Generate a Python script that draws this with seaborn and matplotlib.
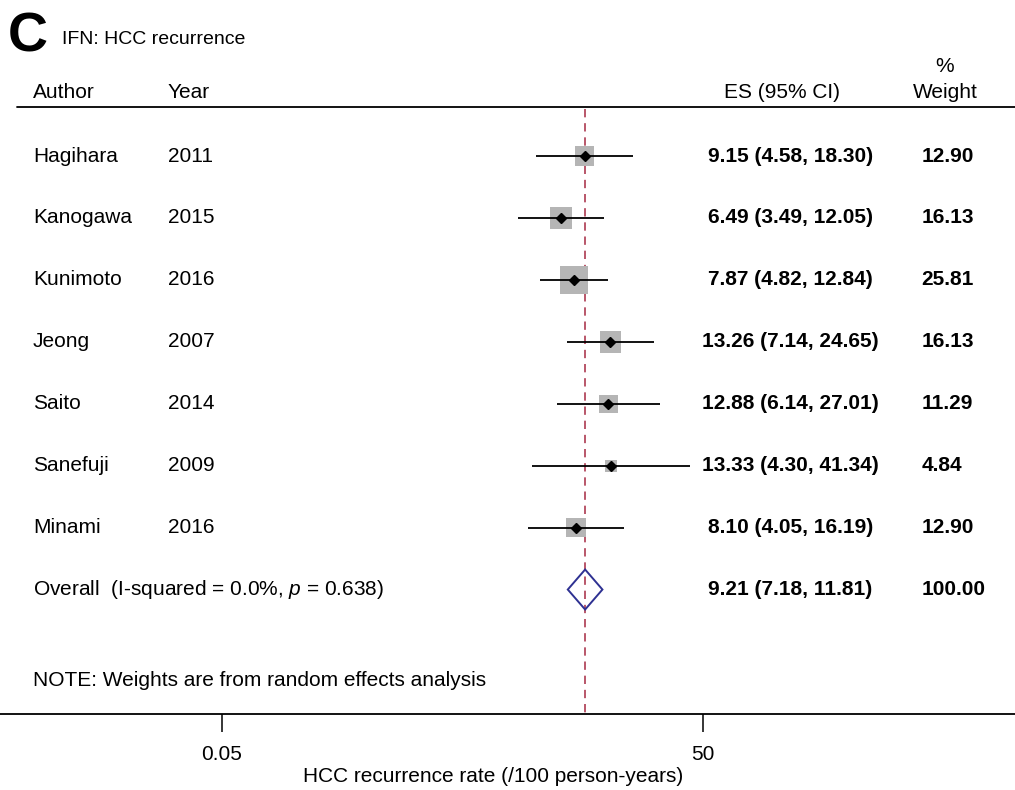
import numpy as np
import pandas as pd
import matplotlib
matplotlib.use("Agg")
import matplotlib.pyplot as plt
import matplotlib.transforms as mtransforms
from matplotlib.patches import Polygon
import seaborn as sns

# Study-level estimates (HCC recurrence rate per 100 person-years)
authors = ["Hagihara", "Kanogawa", "Kunimoto", "Jeong", "Saito", "Sanefuji", "Minami"]
years = ["2011", "2015", "2016", "2007", "2014", "2009", "2016"]
es = [9.15, 6.49, 7.87, 13.26, 12.88, 13.33, 8.10]
ci_low = [4.58, 3.49, 4.82, 7.14, 6.14, 4.30, 4.05]
ci_high = [18.30, 12.05, 12.84, 24.65, 27.01, 41.34, 16.19]
weights = [12.90, 16.13, 25.81, 16.13, 11.29, 4.84, 12.90]

# Pooled random-effects estimate
overall_es = 9.21
overall_low = 7.18
overall_high = 11.81
overall_weight = 100.00
i_squared = 0.0
p_het = 0.638

tick_values = [0.05, 50]
tick_labels = ["0.05", "50"]

sns.set_style("white")
plt.rcParams["font.family"] = ["Liberation Sans", "DejaVu Sans"]
plt.rcParams["mathtext.fontset"] = "custom"
plt.rcParams["mathtext.it"] = "Liberation Sans:italic"
plt.rcParams["mathtext.rm"] = "Liberation Sans"
plt.rcParams["text.color"] = "black"
plt.rcParams["axes.labelcolor"] = "black"
plt.rcParams["xtick.color"] = "black"

df = pd.DataFrame({"author": authors, "year": years, "es": es,
                   "lo": ci_low, "hi": ci_high, "w": weights})
df["row"] = np.arange(len(df))
overall_row = len(df)
note_row = overall_row + 1.47

fig = plt.figure(figsize=(10.15, 7.9), dpi=100)
ax = fig.add_axes([0, 76 / 790, 1, 714 / 790])
ax.set_xscale("log")
ax.set_xlim(10 ** -2.686, 10 ** 3.646)
ax.set_ylim(9.01, -2.52)

# confidence intervals
ax.hlines(df["row"], df["lo"], df["hi"], color="black", lw=1.3, zorder=2)

# weight boxes, area proportional to study weight
k = 15.5
sns.scatterplot(data=df, x="es", y="row", size="w",
                sizes=(k * min(weights), k * max(weights)),
                size_norm=(min(weights), max(weights)),
                marker="s", color="#b5b5b5", edgecolor="none", linewidth=0,
                legend=False, ax=ax, zorder=1)
# point estimates
ax.plot(df["es"], df["row"], linestyle="none", marker="D", ms=5.5,
        color="black", zorder=3)

# pooled estimate line and diamond
ax.vlines(overall_es, -0.76, 9.01, colors="#ad3a50", linestyles=(0, (5, 3.5)),
          lw=1.2, zorder=0)
h = 0.323
diamond = Polygon([(overall_low, overall_row), (overall_es, overall_row - h),
                   (overall_high, overall_row), (overall_es, overall_row + h)],
                  closed=True, fill=False, edgecolor="#2e3192", lw=1.4, zorder=4)
ax.add_patch(diamond)

# column texts
trans = mtransforms.blended_transform_factory(ax.transAxes, ax.transData)
fs = 15
x_author, x_year, x_es, x_w, x_whead = 0.0325, 0.1655, 0.7785, 0.908, 0.931
for _, r in df.iterrows():
    ax.text(x_author, r["row"], r["author"], transform=trans, fontsize=fs,
            va="center", ha="left")
    ax.text(x_year, r["row"], r["year"], transform=trans, fontsize=fs,
            va="center", ha="left")
    ax.text(x_es, r["row"], f"{r['es']:.2f} ({r['lo']:.2f}, {r['hi']:.2f})",
            transform=trans, fontsize=fs, va="center", ha="center",
            fontweight="bold")
    ax.text(x_w, r["row"], f"{r['w']:.2f}", transform=trans, fontsize=fs,
            va="center", ha="left", fontweight="bold")

ax.text(x_author, overall_row,
        f"Overall  (I-squared = {i_squared:.1f}%, $p$ = {p_het:.3f})",
        transform=trans, fontsize=fs, va="center", ha="left")
ax.text(x_es, overall_row,
        f"{overall_es:.2f} ({overall_low:.2f}, {overall_high:.2f})",
        transform=trans, fontsize=fs, va="center", ha="center", fontweight="bold")
ax.text(x_w, overall_row, f"{overall_weight:.2f}", transform=trans,
        fontsize=fs, va="center", ha="left", fontweight="bold")
ax.text(x_author, note_row, "NOTE: Weights are from random effects analysis",
        transform=trans, fontsize=fs, va="center", ha="left")

# header
ax.text(x_author, -1.02, "Author", transform=trans, fontsize=fs, va="center")
ax.text(x_year, -1.02, "Year", transform=trans, fontsize=fs, va="center")
ax.text(0.770, -1.02, "ES (95% CI)", transform=trans, fontsize=fs,
        va="center", ha="center")
ax.text(x_whead, -1.44, "%", transform=trans, fontsize=fs, va="center",
        ha="center")
ax.text(x_whead, -1.02, "Weight", transform=trans, fontsize=fs, va="center",
        ha="center")
ax.plot([0.017, 1.0], [-0.79, -0.79], transform=trans, color="black", lw=1.3,
        clip_on=False)

# panel title
fig.text(8 / 1015, 1 - 38 / 790, "C", fontsize=40, fontweight="bold",
         va="center", ha="left")
fig.text(62 / 1015, 1 - 40 / 790, "IFN: HCC recurrence", fontsize=14,
         va="center", ha="left")

# x axis
for side in ["top", "left", "right"]:
    ax.spines[side].set_visible(False)
ax.spines["bottom"].set_linewidth(1.3)
ax.spines["bottom"].set_color("black")
ax.set_yticks([])
ax.set_ylabel("")
ax.set_xticks(tick_values, labels=tick_labels)
ax.xaxis.set_minor_locator(matplotlib.ticker.NullLocator())
ax.tick_params(axis="x", direction="out", length=13, width=1.1, pad=9,
               labelsize=fs, colors="black", bottom=True)
ax.set_xlabel("HCC recurrence rate (/100 person-years)", fontsize=fs)
ax.xaxis.set_label_coords(0.486, -0.074)
ax.grid(False)

fig.savefig("out.png", dpi=100)
